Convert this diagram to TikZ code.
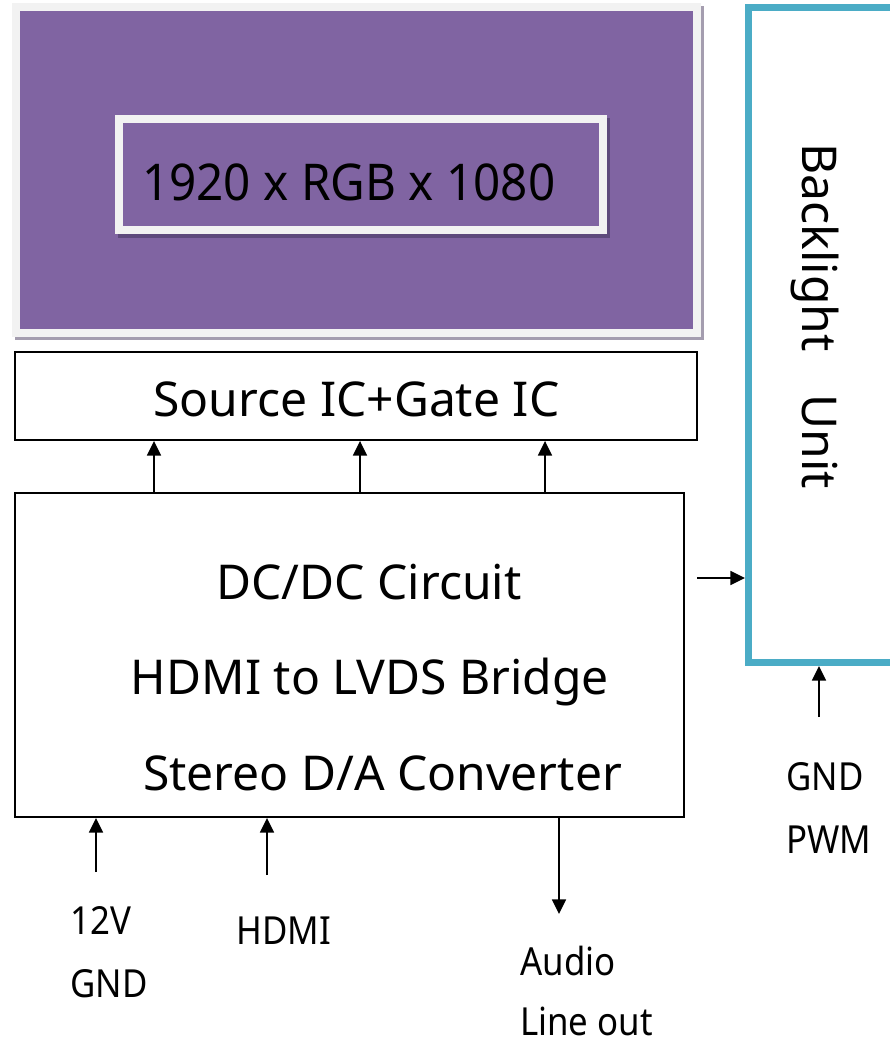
\documentclass[tikz,border=0pt]{standalone}
\usepackage{fontspec}
\setmainfont{Noto Sans}
\newfontfamily\lblfont[FakeStretch=0.9]{Noto Sans}
\newfontfamily\resfont[FakeStretch=0.94]{Noto Sans}
\usetikzlibrary{arrows.meta}
\definecolor{scrpurple}{HTML}{8064A2}
\definecolor{framegray}{HTML}{F2F2F2}
\definecolor{bluebl}{HTML}{4BACC6}
\definecolor{shadowgray}{HTML}{A49DAF}
\definecolor{shadowpurple}{HTML}{5E4A7C}
\begin{document}
\begin{tikzpicture}[x=0.75pt,y=-0.75pt,
  box/.style={draw=black, line width=1.4pt, fill=white, inner sep=0pt},
  frame/.style={draw=framegray, line width=6pt, fill=scrpurple, inner sep=0pt},
  arr/.style={-{Triangle[length=11pt,width=10.5pt]}, line width=1.3pt},
  big/.style={font=\fontsize{36pt}{43pt}\selectfont, inner sep=0pt, anchor=base},
  lbl/.style={font=\lblfont\fontsize{29pt}{35pt}\selectfont, inner sep=0pt, anchor=base west}]
\fill[white] (0,0) rectangle (889,1045);
\useasboundingbox (0,0) rectangle (889,1045);

% screen
\fill[shadowgray] (15,6) rectangle (704,340);
\node[frame, minimum width=510.75pt, minimum height=244.5pt] (scr) at (356.5,170) {};
\fill[shadowpurple] (118,118) rectangle (610,238);
\node[frame, minimum width=363pt, minimum height=83.6pt] (res) at (361,174.25) {};
\node[font=\resfont\fontsize{38pt}{45pt}\selectfont, inner sep=0pt, anchor=base west] (restext) at (142,200) {1920 x RGB x 1080};

% source / gate
\node[box, minimum width=511.5pt, minimum height=66pt] (src) at (356,396) {};
\node[big] (srctext) at (356.5,416) {Source IC+Gate IC};

% main board
\node[box, minimum width=501.75pt, minimum height=243pt] (main) at (349.5,655) {};
\node[big] (l1) at (369,599) {DC/DC Circuit};
\node[big] (l2) at (370,694) {HDMI to LVDS Bridge};
\node[big] (l3) at (382.5,790) {Stereo D/A Converter};

% backlight
\node[draw=bluebl, line width=5.25pt, fill=white, inner sep=0pt,
      minimum width=158.6pt, minimum height=491.6pt] (bl) at (854.25,334.75) {};
\node[big, rotate=-90] (bltext) at (802,316.5) {Backlight\hspace{0.9em}Unit};

% arrows main -> source
\draw[arr] (154,0 |- main.north) -- (154,0 |- src.south);
\draw[arr] (360,0 |- main.north) -- (360,0 |- src.south);
\draw[arr] (545,0 |- main.north) -- (545,0 |- src.south);

% main -> backlight
\coordinate (blin) at (697,578);
\draw[arr] (blin) -- (blin -| bl.west);

% GND/PWM -> backlight
\coordinate (pwmin) at (819,717);
\draw[arr] (pwmin) -- (pwmin |- bl.south);
\node[lbl] (gndr) at (786,790) {GND};
\node[lbl] (pwm) at (786,853) {PWM};

% bottom inputs/outputs
\coordinate (v12) at (96,872);
\draw[arr] (v12) -- (v12 |- main.south);
\coordinate (hdmiin) at (267,875);
\draw[arr] (hdmiin) -- (hdmiin |- main.south);
\coordinate (audout) at (559,914);
\draw[arr] (audout |- main.south) -- (audout);

\node[lbl] (t12v) at (70,934) {12V};
\node[lbl] (tgnd) at (70,997) {GND};
\node[lbl] (thdmi) at (236,944) {HDMI};
\node[lbl] (taudio) at (520,975) {Audio};
\node[lbl] (tline) at (520,1035) {Line out};
\end{tikzpicture}
\end{document}
